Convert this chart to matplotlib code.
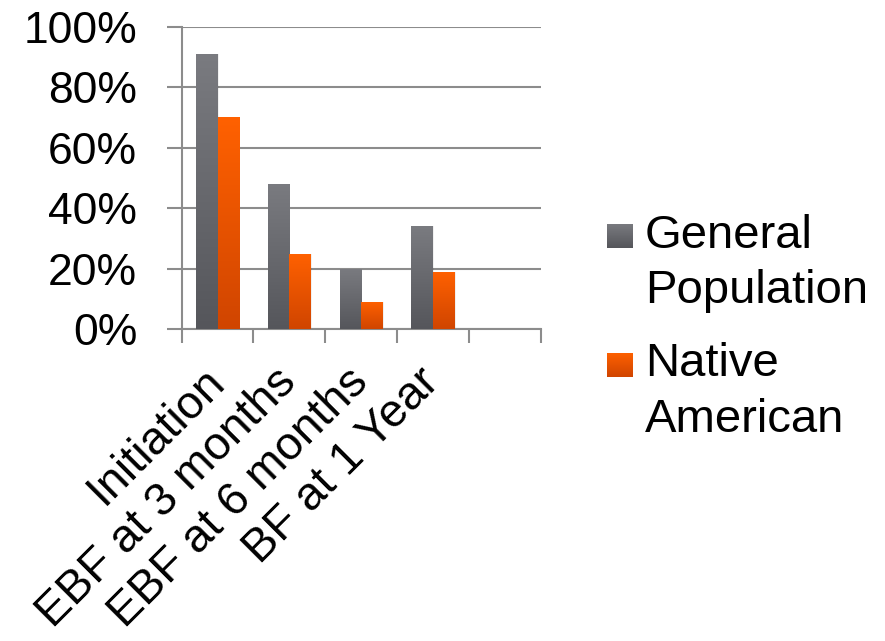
import numpy as np
import matplotlib
matplotlib.use("Agg")
import matplotlib.pyplot as plt
from matplotlib.colors import LinearSegmentedColormap
from matplotlib.ticker import FuncFormatter, FixedLocator

categories = ["Initiation", "EBF at 3 months", "EBF at 6 months", "BF at 1 Year", ""]
series_names = ["General\nPopulation", "Native\nAmerican"]
general_population = [91, 48, 20, 34, None]
native_american = [70, 25, 9, 19, None]
y_ticks = [0, 20, 40, 60, 80, 100]

gray_cmap = LinearSegmentedColormap.from_list("g", ["#55565b", "#7a7b80"])
orange_cmap = LinearSegmentedColormap.from_list("o", ["#d04500", "#ff6100"])

plt.rcParams['font.family'] = ['Liberation Sans', 'DejaVu Sans']

fig = plt.figure(figsize=(8.85, 6.41), dpi=100)
ax = fig.add_axes([0.2053, 0.4863, 0.611 - 0.2053, 0.9583 - 0.4863])

x = np.arange(len(categories))
w = 0.3

def grad_bars(xpos, vals, cmap):
    xs = [xx for xx, v in zip(xpos, vals) if v is not None]
    vs = [v for v in vals if v is not None]
    bars = ax.bar(xs, vs, width=w, color="none", edgecolor="none", zorder=3)
    grad = np.linspace(0, 1, 256).reshape(-1, 1)
    for b in bars:
        x0, y0 = b.get_x(), b.get_y()
        x1, y1 = x0 + b.get_width(), y0 + b.get_height()
        ax.add_patch(plt.Rectangle((x0 + 0.015, y0), b.get_width(), b.get_height(),
                                   color="#000000", alpha=0.06, zorder=2, lw=0))
        im = ax.imshow(grad, cmap=cmap, extent=[x0, x1, y0, y1], origin="lower",
                       aspect="auto", zorder=3, interpolation="bicubic")
        im.set_clip_path(b)
    return bars

grad_bars(x - w / 2, general_population, gray_cmap)
grad_bars(x + w / 2, native_american, orange_cmap)

ax.set_xlim(-0.5, len(categories) - 0.5)
ax.set_ylim(0, 100)
ax.yaxis.set_major_locator(FixedLocator(y_ticks))
ax.yaxis.set_major_formatter(FuncFormatter(lambda v, p: f"{int(v)}%"))
ax.grid(axis="y", color="#8c8c8c", linewidth=1.5, zorder=0)
ax.set_axisbelow(True)

for s in ["top", "right"]:
    ax.spines[s].set_visible(False)
for s in ["left", "bottom"]:
    ax.spines[s].set_color("#8c8c8c")
    ax.spines[s].set_linewidth(1.5)

ax.tick_params(axis="y", length=11, width=1.5, color="#8c8c8c", labelsize=32, pad=21)
ax.set_xticks(np.arange(-0.5, len(categories)), minor=False)
ax.set_xticklabels([])
ax.tick_params(axis="x", which="major", length=10, width=1.5, color="#8c8c8c", direction="out")
ax.set_xticks(x, minor=True)
ax.set_xticklabels(categories, minor=True, rotation=45, ha="right", va="center",
                   rotation_mode="anchor", fontsize=33.5)
ax.tick_params(axis="x", which="minor", length=0, pad=33)

legend_items = [(series_names[0], gray_cmap, 0.6126), (series_names[1], orange_cmap, 0.4119)]
for name, cmap, y0 in legend_items:
    lax = fig.add_axes([0.6855, y0, 0.02825, 0.0379])
    lax.imshow(np.linspace(0, 1, 64).reshape(-1, 1), cmap=cmap, origin="lower",
               aspect="auto", interpolation="bicubic")
    lax.axis("off")
    fig.text(645 / 885, y0 + 0.0379 + 0.016, name, fontsize=34, ha="left", va="top",
             linespacing=1.34)

fig.savefig("out.png", dpi=100)
